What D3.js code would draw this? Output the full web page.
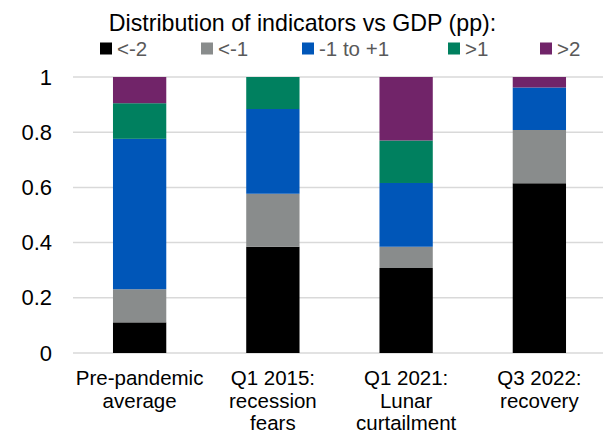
<!DOCTYPE html>
<html>
<head>
<meta charset="utf-8">
<script src="https://cdn.jsdelivr.net/npm/d3@7"></script>
<style>
  html, body { margin: 0; padding: 0; background: #fff; }
  svg { display: block; font-family: "Liberation Sans", Arial, sans-serif; }
</style>
</head>
<body>
<svg id="chart" width="603" height="434"></svg>
<script>
// Periods shown on the x axis (each label split into lines)
const categories = ["Pre-pandemic average", "Q1 2015: recession fears", "Q1 2021: Lunar curtailment", "Q3 2022: recovery"];
const categoryLines = [
  ["Pre-pandemic", "average"],
  ["Q1 2015:", "recession", "fears"],
  ["Q1 2021:", "Lunar", "curtailment"],
  ["Q3 2022:", "recovery"]
];

// Share of indicators in each gap bucket vs GDP (pp)
const seriesNames = ["<-2", "<-1", "-1 to +1", ">1", ">2"];
const below2   = [0.111, 0.385, 0.308, 0.615];
const below1   = [0.120, 0.192, 0.077, 0.193];
const within1  = [0.545, 0.307, 0.231, 0.154];
const above1   = [0.129, 0.116, 0.154, 0.000];
const above2   = [0.095, 0.000, 0.230, 0.038];
const seriesColors = ["#000000", "#898c8c", "#0056b8", "#00805f", "#712469"];

const yTicks = [0, 0.2, 0.4, 0.6, 0.8, 1];
const yTickLabels = ["0", "0.2", "0.4", "0.6", "0.8", "1"];

const rows = categories.map((c, i) => ({
  category: c,
  "<-2": below2[i],
  "<-1": below1[i],
  "-1 to +1": within1[i],
  ">1": above1[i],
  ">2": above2[i]
}));

const svg = d3.select("#chart");
const plot = { left: 73, right: 606, top: 77, bottom: 353 };

const x = d3.scaleBand().domain(categories).range([plot.left, plot.right]).paddingInner(0.6).paddingOuter(0.3);
const y = d3.scaleLinear().domain([0, 1]).range([plot.bottom, plot.top]);

// Horizontal gridlines
svg.append("g")
  .selectAll("line")
  .data(yTicks)
  .join("line")
  .attr("x1", plot.left)
  .attr("x2", 603)
  .attr("y1", d => y(d))
  .attr("y2", d => y(d))
  .attr("stroke", "#d9d9d9")
  .attr("stroke-width", 1.5);

// Y axis tick labels
const yAxis = d3.axisLeft(y).tickValues(yTicks).tickFormat((d, i) => yTickLabels[i]).tickSize(0).tickPadding(21);
svg.append("g")
  .attr("transform", `translate(${plot.left},0)`)
  .call(yAxis)
  .call(g => g.select(".domain").remove())
  .call(g => g.selectAll("text")
    .attr("font-size", 22)
    .attr("fill", "#000")
    .attr("font-family", "Liberation Sans, Arial, sans-serif"));

// Stacked bars
const stack = d3.stack().keys(seriesNames);
const layers = stack(rows);

svg.append("g")
  .selectAll("g")
  .data(layers)
  .join("g")
  .attr("fill", (d, i) => seriesColors[i])
  .selectAll("rect")
  .data(d => d)
  .join("rect")
  .attr("x", d => x(d.data.category))
  .attr("width", x.bandwidth())
  .attr("y", d => y(d[1]))
  .attr("height", d => Math.max(0, y(d[0]) - y(d[1])));

// X axis category labels
const xLabels = svg.append("g");
categories.forEach((c, i) => {
  const t = xLabels.append("text")
    .attr("x", x(c) + x.bandwidth() / 2)
    .attr("y", 385)
    .attr("text-anchor", "middle")
    .attr("font-size", 20.5)
    .attr("fill", "#000");
  categoryLines[i].forEach((line, j) => {
    t.append("tspan")
      .attr("x", x(c) + x.bandwidth() / 2)
      .attr("dy", j === 0 ? 0 : 22.5)
      .text(line);
  });
});

// Title
svg.append("text")
  .attr("x", 302.5)
  .attr("y", 31)
  .attr("text-anchor", "middle")
  .attr("font-size", 23.2)
  .attr("fill", "#000")
  .text("Distribution of indicators vs GDP (pp):");

// Legend
const legendX = [100, 201, 302, 448, 540];
const legend = svg.append("g");
seriesNames.forEach((name, i) => {
  legend.append("rect")
    .attr("x", legendX[i])
    .attr("y", 42.5)
    .attr("width", 12)
    .attr("height", 12)
    .attr("fill", seriesColors[i]);
  legend.append("text")
    .attr("x", legendX[i] + 17)
    .attr("y", 55.5)
    .attr("font-size", 20.5)
    .attr("fill", "#595959")
    .text(name);
});
</script>
</body>
</html>
